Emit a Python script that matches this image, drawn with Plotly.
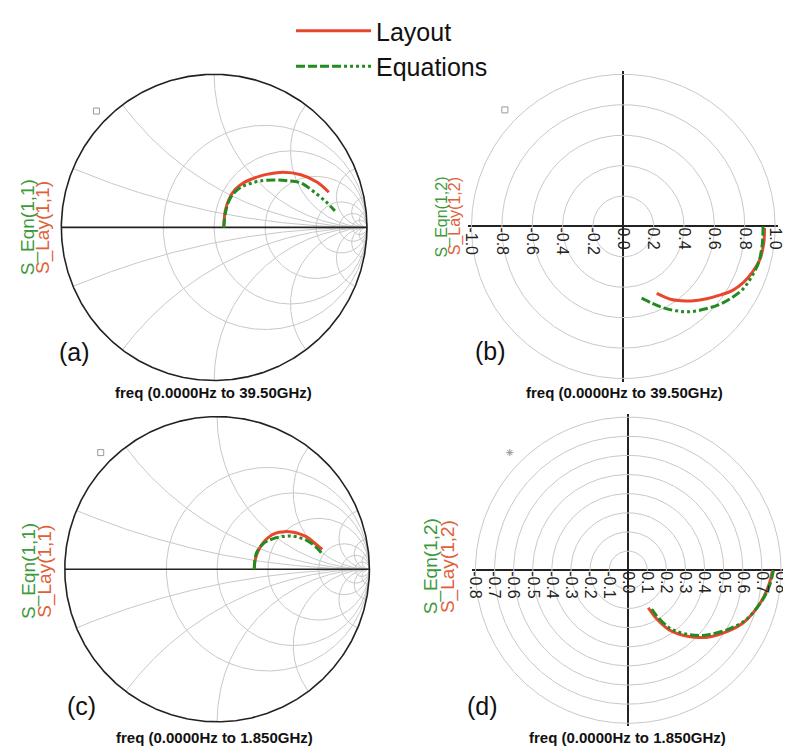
import numpy as np
import plotly.graph_objects as go

# ---------------- data (reflection coefficient, real / imag parts) ----------------
# (a) S(1,1), 0 - 39.5 GHz, Smith chart
a_lay_re = [0.063, 0.073, 0.10, 0.137, 0.19, 0.245, 0.30, 0.353, 0.45, 0.568, 0.675, 0.75]
a_lay_im = [0.0, 0.108, 0.19, 0.247, 0.29, 0.316, 0.335, 0.348, 0.36, 0.344, 0.295, 0.23]
a_eqn_re = [0.063, 0.075, 0.10, 0.14, 0.19, 0.245, 0.30, 0.395, 0.48, 0.568, 0.675, 0.74, 0.79]
a_eqn_im = [0.0, 0.10, 0.18, 0.235, 0.27, 0.29, 0.303, 0.31, 0.305, 0.29, 0.215, 0.16, 0.108]
# (b) S(1,2), 0 - 39.5 GHz, polar
b_lay_re = [0.93, 0.925, 0.90, 0.85, 0.79, 0.72, 0.64, 0.55, 0.446, 0.38, 0.316, 0.22]
b_lay_im = [-0.01, -0.11, -0.216, -0.30, -0.37, -0.42, -0.45, -0.475, -0.49, -0.488, -0.48, -0.44]
b_eqn_re = [0.92, 0.915, 0.89, 0.845, 0.79, 0.72, 0.64, 0.55, 0.446, 0.35, 0.25, 0.117]
b_eqn_im = [0.0, -0.12, -0.24, -0.33, -0.41, -0.465, -0.51, -0.54, -0.56, -0.555, -0.53, -0.47]
# (c) S(1,1), 0 - 1.85 GHz, Smith chart
c_lay_re = [0.244, 0.25, 0.27, 0.30, 0.335, 0.38, 0.442, 0.50, 0.55, 0.60, 0.636, 0.69]
c_lay_im = [0.0, 0.06, 0.12, 0.17, 0.207, 0.235, 0.246, 0.242, 0.228, 0.205, 0.175, 0.13]
c_eqn_re = [0.244, 0.248, 0.26, 0.30, 0.356, 0.42, 0.485, 0.54, 0.594, 0.65, 0.69]
c_eqn_im = [0.0, 0.06, 0.11, 0.165, 0.196, 0.213, 0.218, 0.207, 0.186, 0.145, 0.10]
# (d) S(1,2), 0 - 1.85 GHz, polar
d_lay_re = [0.755, 0.735, 0.695, 0.61, 0.52, 0.437, 0.37, 0.316, 0.26, 0.213, 0.145, 0.105]
d_lay_im = [0.0, -0.08, -0.165, -0.268, -0.32, -0.346, -0.352, -0.346, -0.332, -0.311, -0.25, -0.196]
d_eqn_re = [0.76, 0.74, 0.70, 0.615, 0.52, 0.42, 0.37, 0.316, 0.26, 0.213, 0.15, 0.114]
d_eqn_im = [0.0, -0.08, -0.16, -0.26, -0.31, -0.337, -0.341, -0.336, -0.322, -0.30, -0.24, -0.19]

# grid / tick values
smith_r_vals = [0.5, 1, 2, 5, 10, 20]
smith_x_vals = [0.2, 0.5, 1, 2, 5, 10, 20]
b_circles = [0.2, 0.4, 0.6, 0.8, 1.0]
b_ticks = [-1.0, -0.8, -0.6, -0.4, -0.2, 0.0, 0.2, 0.4, 0.6, 0.8, 1.0]
b_ticktext = ["-1.0", "-0.8", "-0.6", "-0.4", "-0.2", "0.0", "0.2", "0.4", "0.6", "0.8", "1.0"]
d_circles = [0.1, 0.2, 0.3, 0.4, 0.5, 0.6, 0.7, 0.8]
d_ticks = [-0.8, -0.7, -0.6, -0.5, -0.4, -0.3, -0.2, -0.1, 0.0, 0.1, 0.2, 0.3, 0.4, 0.5, 0.6, 0.7, 0.8]
d_ticktext = ["-0.8", "-0.7", "-0.6", "-0.5", "-0.4", "-0.3", "-0.2", "-0.1", "0.0",
              "0.1", "0.2", "0.3", "0.4", "0.5", "0.6", "0.7", "0.8"]

series_names = ["Layout", "Equations"]
panel_letters = ["(a)", "(b)", "(c)", "(d)"]
freq_titles = ["freq (0.0000Hz to 39.50GHz)", "freq (0.0000Hz to 39.50GHz)",
               "freq (0.0000Hz to 1.850GHz)", "freq (0.0000Hz to 1.850GHz)"]
eqn_labels = ["S_Eqn(1,1)", "S_Eqn(1,2)", "S_Eqn(1,1)", "S_Eqn(1,2)"]
lay_labels = ["S_Lay(1,1)", "S_Lay(1,2)", "S_Lay(1,1)", "S_Lay(1,2)"]

# ---------------- styling / geometry ----------------
OFF = 8                      # page body margin of the browser
FW, FH = 791 - OFF, 749 - OFF
RED = "#e8472e"
GREEN = "#228b22"
GRID = "#c8c8c8"
DASH = "9px,3px,9px,3px,9px,3px,9px,3px,3px,3px,3px,3px,3px,3px,3px,3px"


def px(x, y):
    """screen pixel -> paper coords"""
    return (x - OFF) / FW, 1 - (y - OFF) / FH


panels = [
    dict(cx=212, cy=221, R=155, full=1.0, kind="smith",
         lay=(a_lay_re, a_lay_im), eqn=(a_eqn_re, a_eqn_im)),
    dict(cx=627, cy=220, R=154, full=1.0, kind="polar", circles=b_circles,
         ticks=b_ticks, ticktext=b_ticktext,
         lay=(b_lay_re, b_lay_im), eqn=(b_eqn_re, b_eqn_im)),
    dict(cx=215, cy=567, R=154.5, full=1.0, kind="smith",
         lay=(c_lay_re, c_lay_im), eqn=(c_eqn_re, c_eqn_im)),
    dict(cx=632, cy=568, R=155, full=0.8, kind="polar", circles=d_circles,
         ticks=d_ticks, ticktext=d_ticktext,
         lay=(d_lay_re, d_lay_im), eqn=(d_eqn_re, d_eqn_im)),
]
label_pos = [(24, 39, 221, 19), (443, 456, 210, 16), (24, 41, 569, 19), (432, 449, 564, 19)]
letter_pos = [(70, 347), (492, 346), (77, 705), (484, 705)]
title_pos = [(211, 388), (628, 388), (212, 737), (631, 737)]
marker_pos = [(-0.77, 0.76, "square-open"), (-0.78, 0.766, "square-open"),
              (-0.764, 0.764, "square-open"), (-0.775, 0.768, "asterisk-open")]

K = 1.02
fig = go.Figure()
layout_axes = {}


def smith_grid(r_vals, x_vals):
    gx, gy = [], []
    phi = np.linspace(0, 2 * np.pi, 361)
    for r in r_vals:
        c, rad = r / (1 + r), 1 / (1 + r)
        gx += list(c + rad * np.cos(phi)) + [None]
        gy += list(rad * np.sin(phi)) + [None]
    rr = np.concatenate([[0], np.geomspace(1e-3, 1e4, 600)])
    for xv in x_vals:
        for s in (1, -1):
            z = rr + 1j * s * xv
            g = (z - 1) / (z + 1)
            gx += list(g.real) + [None]
            gy += list(g.imag) + [None]
    return gx, gy


for i, p in enumerate(panels):
    n = "" if i == 0 else str(i + 1)
    xa, ya = "x" + n, "y" + n
    hw = p["R"] * K
    x0, yc = px(p["cx"], p["cy"])
    xdom = [x0 - hw / FW, x0 + hw / FW]
    ydom = [yc - hw / FH, yc + hw / FH]
    rng = [-p["full"] * K, p["full"] * K]

    if p["kind"] == "smith":
        gx, gy = smith_grid(smith_r_vals, smith_x_vals)
        fig.add_trace(go.Scatter(x=gx, y=gy, mode="lines", line=dict(color=GRID, width=1),
                                 hoverinfo="skip", showlegend=False, xaxis=xa, yaxis=ya))
        phi = np.linspace(0, 2 * np.pi, 721)
        fig.add_trace(go.Scatter(x=np.cos(phi), y=np.sin(phi), mode="lines",
                                 line=dict(color="#222222", width=1.6),
                                 hoverinfo="skip", showlegend=False, xaxis=xa, yaxis=ya))
        fig.add_trace(go.Scatter(x=[-1, 1], y=[0, 0], mode="lines",
                                 line=dict(color="#222222", width=1.6),
                                 hoverinfo="skip", showlegend=False, xaxis=xa, yaxis=ya))
        layout_axes["xaxis" + n] = dict(domain=xdom, range=rng, visible=False, anchor=ya)
        layout_axes["yaxis" + n] = dict(domain=ydom, range=rng, visible=False, anchor=xa)
    else:
        phi = np.linspace(0, 2 * np.pi, 721)
        gx, gy = [], []
        for rc in p["circles"]:
            gx += list(rc * np.cos(phi)) + [None]
            gy += list(rc * np.sin(phi)) + [None]
        fig.add_trace(go.Scatter(x=gx, y=gy, mode="lines", line=dict(color=GRID, width=1),
                                 hoverinfo="skip", showlegend=False, xaxis=xa, yaxis=ya))
        layout_axes["xaxis" + n] = dict(
            domain=xdom, range=rng, anchor="free", position=yc,
            showgrid=False, showline=False, zeroline=True, zerolinecolor="#222222",
            zerolinewidth=1.6, tickvals=p["ticks"], ticktext=p["ticktext"],
            tickangle=90, ticks="", tickfont=dict(size=16, color="#222222",
                                                   family="Liberation Sans, Arial"))
        layout_axes["yaxis" + n] = dict(
            domain=ydom, range=rng, anchor=xa, showgrid=False, showline=False,
            zeroline=True, zerolinecolor="#222222", zerolinewidth=1.6,
            showticklabels=False, ticks="")

    mx, my, msym = marker_pos[i]
    fig.add_trace(go.Scatter(x=[mx * p["full"]], y=[my * p["full"]], mode="markers",
                             marker=dict(symbol=msym, size=6, color="#999999",
                                         line=dict(color="#999999", width=1)),
                             hoverinfo="skip", showlegend=False, xaxis=xa, yaxis=ya))

    fig.add_trace(go.Scatter(x=p["lay"][0], y=p["lay"][1], mode="lines", name=series_names[0],
                             line=dict(color=RED, width=3, shape="spline"),
                             legendgroup="lay", showlegend=(i == 0), xaxis=xa, yaxis=ya))
    fig.add_trace(go.Scatter(x=p["eqn"][0], y=p["eqn"][1], mode="lines", name=series_names[1],
                             line=dict(color=GREEN, width=3, dash=DASH, shape="spline"),
                             legendgroup="eqn", showlegend=(i == 0), xaxis=xa, yaxis=ya))

annotations = []
for i in range(4):
    gxp, rxp, lyp, fs = label_pos[i]
    ax, ay = px(gxp, lyp)
    annotations.append(dict(x=ax, y=ay, xref="paper", yref="paper",
                            text=eqn_labels[i], textangle=-90, showarrow=False,
                            font=dict(size=fs, color="#3c9a3c", family="Liberation Sans, Arial"),
                            xanchor="center", yanchor="middle"))
    ax, ay = px(rxp, lyp)
    annotations.append(dict(x=ax, y=ay, xref="paper", yref="paper",
                            text=lay_labels[i], textangle=-90, showarrow=False,
                            font=dict(size=fs, color="#e0603a", family="Liberation Sans, Arial"),
                            xanchor="center", yanchor="middle"))
    ax, ay = px(*letter_pos[i])
    annotations.append(dict(x=ax, y=ay, xref="paper", yref="paper",
                            text=panel_letters[i], showarrow=False,
                            font=dict(size=25, color="#111111", family="Liberation Sans, Arial"),
                            xanchor="center", yanchor="middle"))
    ax, ay = px(*title_pos[i])
    annotations.append(dict(x=ax, y=ay, xref="paper", yref="paper",
                            text="<b>" + freq_titles[i] + "</b>", showarrow=False,
                            font=dict(size=15, color="#111111", family="Liberation Sans, Arial"),
                            xanchor="center", yanchor="middle"))

lgx, lgy = px(290, 40)
fig.update_layout(
    width=FW, height=FH, margin=dict(l=0, r=0, t=0, b=0),
    paper_bgcolor="white", plot_bgcolor="rgba(0,0,0,0)",
    font=dict(family="Liberation Sans, Arial"),
    legend=dict(x=lgx, y=lgy, xanchor="left", yanchor="middle",
                font=dict(size=25, color="#111111"), bgcolor="rgba(0,0,0,0)",
                itemwidth=75, tracegroupgap=0),
    annotations=annotations,
    **layout_axes,
)

fig.write_html("out.html")
